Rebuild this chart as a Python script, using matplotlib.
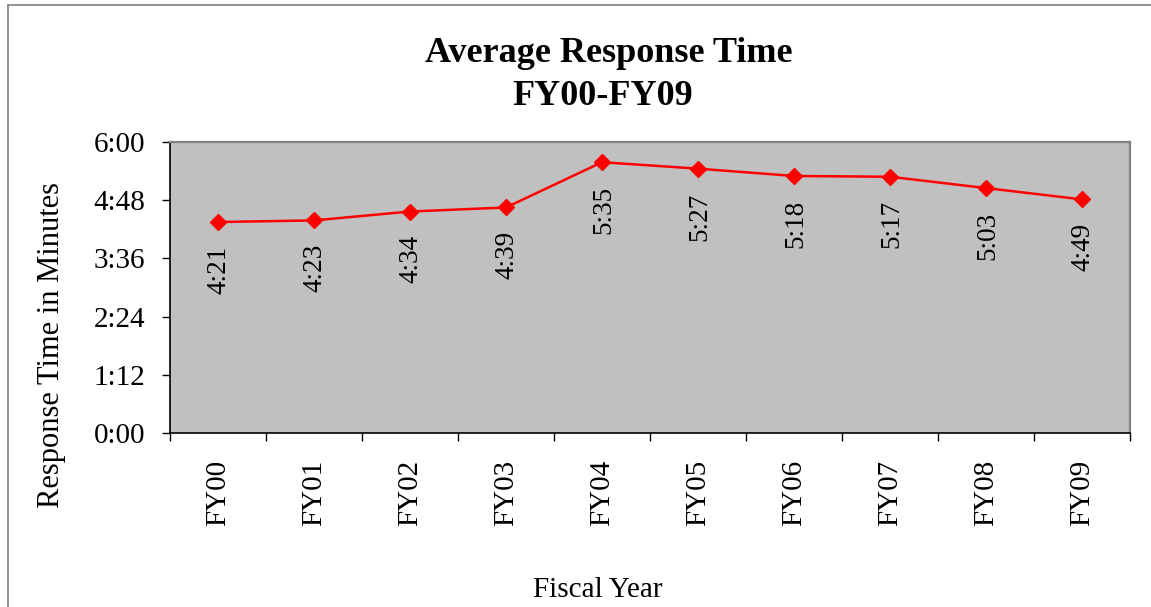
import matplotlib
matplotlib.use("Agg")
import matplotlib.pyplot as plt
from matplotlib.lines import Line2D

# ---- data ----
years = ["FY00", "FY01", "FY02", "FY03", "FY04", "FY05", "FY06", "FY07", "FY08", "FY09"]
labels = ["4:21", "4:23", "4:34", "4:39", "5:35", "5:27", "5:18", "5:17", "5:03", "4:49"]
seconds = [261, 263, 274, 279, 335, 327, 318, 317, 303, 289]
ytick_vals = [0, 72, 144, 216, 288, 360]
ytick_labels = ["0:00", "1:12", "2:24", "3:36", "4:48", "6:00"]

W, H = 1151, 607
fig = plt.figure(figsize=(W / 100, H / 100), dpi=100)
fig.patch.set_facecolor("white")
serif = "Liberation Serif"

# figure border (top & left visible)
fig.add_artist(Line2D([8 / W, 8 / W], [0, 1 - 5 / H], transform=fig.transFigure, color="#808080", lw=1.2))
fig.add_artist(Line2D([8 / W, 1], [1 - 5 / H, 1 - 5 / H], transform=fig.transFigure, color="#808080", lw=1.2))

left, right, top, bottom = 170, 1130, 142, 433
ax = fig.add_axes([left / W, 1 - bottom / H, (right - left) / W, (bottom - top) / H])
ax.set_facecolor("#C0C0C0")

x = list(range(len(years)))
ax.plot(x, seconds, color="red", lw=1.8, marker="D", ms=8, mec="red", mfc="red", zorder=3)

for xi, yi, lab in zip(x, seconds, labels):
    ax.annotate(lab, (xi, yi), xytext=(1, -17), textcoords="offset points",
                rotation=90, ha="center", va="top", fontsize=19.5, family=serif)

ax.set_xlim(-0.5, len(years) - 0.5)
ax.set_ylim(0, 360)
ax.set_yticks(ytick_vals)
ax.set_yticklabels(ytick_labels, family=serif, fontsize=21)
ax.set_xticks(x)
ax.set_xticklabels(years, family=serif, fontsize=21, rotation=90)
ax.set_xticks([i - 0.5 for i in range(len(years) + 1)], minor=True)
ax.tick_params(axis="x", which="major", length=0, pad=19)
ax.tick_params(axis="x", which="minor", length=6, width=1, color="black")
ax.tick_params(axis="y", length=6, width=1, pad=12, color="black")

for s in ["left", "bottom"]:
    ax.spines[s].set_color("black")
    ax.spines[s].set_linewidth(1.2)
for s in ["top", "right"]:
    ax.spines[s].set_color("#808080")
    ax.spines[s].set_linewidth(1.6)

fig.text(609 / W, 1 - 62 / H, "Average Response Time", ha="center", va="baseline",
         fontsize=26, fontweight="bold", family=serif)
fig.text(603 / W, 1 - 105 / H, "FY00-FY09", ha="center", va="baseline",
         fontsize=26, fontweight="bold", family=serif)
fig.text(52 / W, 1 - 345 / H, "Response Time in Minutes", rotation=90, ha="center", va="center",
         fontsize=22, family=serif)
fig.text(598 / W, 1 - 597 / H, "Fiscal Year", ha="center", va="baseline", fontsize=21, family=serif)

fig.savefig("out.png", dpi=100)
